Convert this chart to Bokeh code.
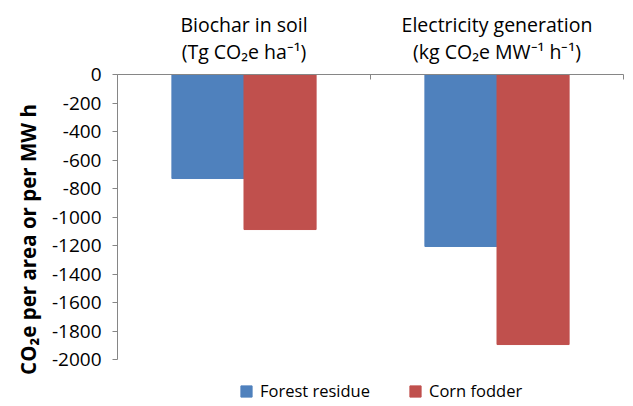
from bokeh.plotting import figure
from bokeh.models import (Range1d, LinearAxis, FixedTicker, ColumnDataSource,
                          Legend, LegendItem)
from bokeh.transform import dodge
from bokeh.embed import file_html
from bokeh.resources import INLINE

categories = ["Biochar in soil\n(Tg CO\u2082e ha\u207b\u00b9)",
              "Electricity generation\n(kg CO\u2082e MW\u207b\u00b9 h\u207b\u00b9)"]
cat_pos = [0.5, 1.5]
forest_residue = [-730, -1207]
corn_fodder = [-1088, -1895]
y_ticks = [0, -200, -400, -600, -800, -1000, -1200, -1400, -1600, -1800, -2000]
series_names = ["Forest residue", "Corn fodder"]
colors = ["#4F81BD", "#C0504D"]

src = ColumnDataSource(dict(x=cat_pos, forest=forest_residue, corn=corn_fodder))

# The plotted axis spans 285 px; the frame is extended below it to hold the legend.
AXIS_PX = 285
FRAME_PX = 330
y_min, y_max = min(y_ticks), max(y_ticks)
y_start = y_max - (y_max - y_min) * FRAME_PX / AXIS_PX

p = figure(frame_width=506, frame_height=FRAME_PX, output_backend="svg",
           toolbar_location=None,
           x_range=Range1d(0, 2), y_range=Range1d(y_start, y_max),
           x_axis_location=None, y_axis_location=None,
           min_border_left=117, min_border_right=2, min_border_top=74,
           min_border_bottom=0)
p.grid.visible = False
p.outline_line_color = None

FONT = "Open Sans"
GRAY = "#868686"

yaxis = LinearAxis(ticker=FixedTicker(ticks=y_ticks), bounds=(y_min, y_max))
yaxis.major_label_overrides = {t: str(t) for t in y_ticks}
yaxis.axis_label = "CO\u2082e per area or per MW h"
yaxis.axis_label_text_font = FONT
yaxis.axis_label_text_font_style = "bold"
yaxis.axis_label_text_font_size = "20.5px"
yaxis.axis_label_text_color = "#000000"
yaxis.axis_label_standoff = 7
yaxis.major_label_text_font = FONT
yaxis.major_label_text_font_size = "19px"
yaxis.major_label_text_color = "#000000"
yaxis.major_label_standoff = 11
yaxis.axis_line_color = GRAY
yaxis.major_tick_line_color = GRAY
yaxis.major_tick_in = 0
yaxis.major_tick_out = 5
yaxis.minor_tick_line_color = None
p.add_layout(yaxis, "left")

xaxis = LinearAxis(ticker=FixedTicker(ticks=cat_pos, minor_ticks=[0, 1, 2]))
xaxis.major_label_overrides = {cat_pos[i]: categories[i] for i in range(len(cat_pos))}
xaxis.major_label_text_font = FONT
xaxis.major_label_text_font_size = "19.5px"
xaxis.major_label_text_line_height = 1.0
xaxis.major_label_text_color = "#000000"
xaxis.major_label_standoff = 4
xaxis.axis_line_color = GRAY
xaxis.major_tick_line_color = None
xaxis.minor_tick_line_color = GRAY
xaxis.minor_tick_in = 5
xaxis.minor_tick_out = 0
p.add_layout(xaxis, "above")

r1 = p.vbar(x=dodge("x", -0.1425, range=p.x_range), top="forest", bottom=0,
            width=0.285, source=src, fill_color=colors[0], line_color=colors[0])
r2 = p.vbar(x=dodge("x", 0.1425, range=p.x_range), top="corn", bottom=0,
            width=0.285, source=src, fill_color=colors[1], line_color=colors[1])

legend = Legend(items=[LegendItem(label=series_names[0], renderers=[r1]),
                       LegendItem(label=series_names[1], renderers=[r2])],
                orientation="horizontal", location=(122, 2),
                border_line_color=None, background_fill_alpha=0,
                label_text_font=FONT, label_text_font_size="16.5px",
                label_text_color="#000000",
                glyph_width=14, glyph_height=14, spacing=38,
                label_standoff=7, padding=4, margin=0)
p.add_layout(legend, "center")

open("out.html", "w").write(file_html(p, INLINE))
